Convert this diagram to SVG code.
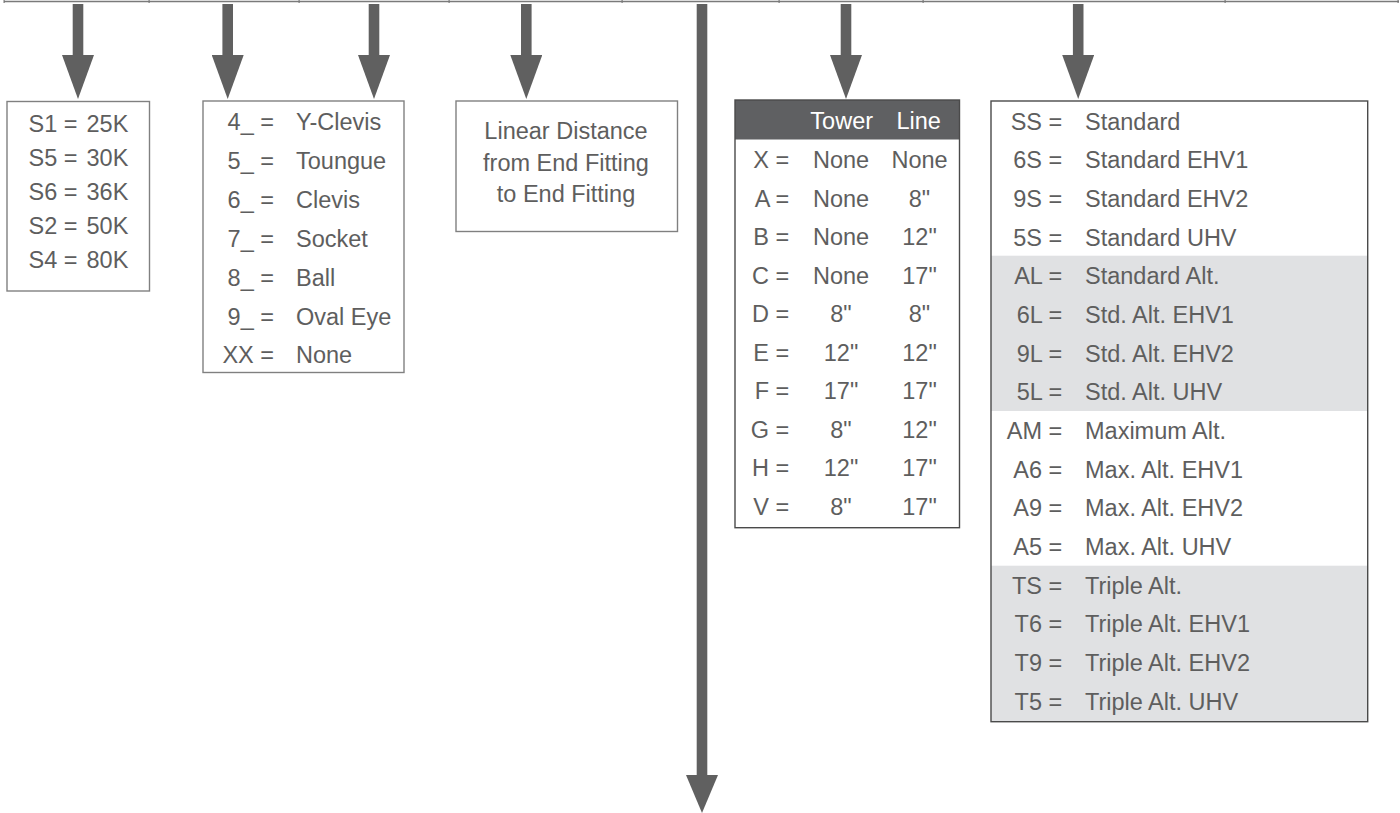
<svg xmlns="http://www.w3.org/2000/svg" width="1400" height="813" viewBox="0 0 1400 813">
<style>
text{font-family:"Liberation Sans",Arial,sans-serif;font-size:23.5px;fill:#5e5e5e}
.box{fill:#fff;stroke:#808080;stroke-width:1.4}
.tbl{fill:none;stroke:#4a4a4a;stroke-width:1.4}
.shade{fill:#e0e1e3}
.hdr{fill:#5f6062}
.hdr-t{fill:#fff;text-anchor:middle}
.e{text-anchor:end}
.m{text-anchor:middle}
.shaft{stroke:#606060;stroke-width:10.6;fill:none}
.top{stroke:#7a7a7a;stroke-width:1.5}
.tick{fill:#7a7a7a}
</style>
<defs>
<marker id="head" markerUnits="userSpaceOnUse" viewBox="0 -16 44 32" refX="0" refY="0" markerWidth="44" markerHeight="32" orient="auto"><path d="M0,-16 L44,0 L0,16 Z" fill="#606060"/></marker>
<marker id="headL" markerUnits="userSpaceOnUse" viewBox="0 -16 38 32" refX="0" refY="0" markerWidth="38" markerHeight="32" orient="auto"><path d="M0,-16 L38,0 L0,16 Z" fill="#606060"/></marker>
</defs>

<g id="top-rule">
<line class="top" x1="4" y1="1.5" x2="1399" y2="1.5"/>
<rect class="tick" x="3.5" y="0" width="1.2" height="3"/>
<rect class="tick" x="148.5" y="0" width="1.2" height="3"/>
<rect class="tick" x="298.5" y="0" width="1.2" height="3"/>
<rect class="tick" x="448.5" y="0" width="1.2" height="3"/>
<rect class="tick" x="621.5" y="0" width="1.2" height="3"/>
<rect class="tick" x="778.5" y="0" width="1.2" height="3"/>
<rect class="tick" x="922.5" y="0" width="1.2" height="3"/>
<rect class="tick" x="1224.5" y="0" width="1.2" height="3"/>
<rect class="tick" x="1397.5" y="0" width="1.2" height="3"/>
</g>

<g id="connectors">
<line class="shaft" x1="78" y1="4" x2="78" y2="55" marker-end="url(#head)"/>
<line class="shaft" x1="227.7" y1="4" x2="227.7" y2="55" marker-end="url(#head)"/>
<line class="shaft" x1="374" y1="4" x2="374" y2="55" marker-end="url(#head)"/>
<line class="shaft" x1="526.3" y1="4" x2="526.3" y2="55" marker-end="url(#head)"/>
<line class="shaft" x1="702" y1="4" x2="702" y2="775" marker-end="url(#headL)"/>
<line class="shaft" x1="846" y1="4" x2="846" y2="55" marker-end="url(#head)"/>
<line class="shaft" x1="1078.2" y1="4" x2="1078.2" y2="55" marker-end="url(#head)"/>
</g>

<g id="strength">
<rect class="box" x="7" y="101.5" width="142.5" height="189.5"/>
<text class="e" x="77.5" y="132">S1 =</text><text x="86.5" y="132">25K</text>
<text class="e" x="77.5" y="166">S5 =</text><text x="86.5" y="166">30K</text>
<text class="e" x="77.5" y="200">S6 =</text><text x="86.5" y="200">36K</text>
<text class="e" x="77.5" y="234">S2 =</text><text x="86.5" y="234">50K</text>
<text class="e" x="77.5" y="268">S4 =</text><text x="86.5" y="268">80K</text>
</g>

<g id="end-fittings">
<rect class="box" x="203" y="101" width="201" height="271.5"/>
<text class="e" x="274" y="130">4_ =</text><text x="296" y="130">Y-Clevis</text>
<text class="e" x="274" y="168.9">5_ =</text><text x="296" y="168.9">Toungue</text>
<text class="e" x="274" y="207.8">6_ =</text><text x="296" y="207.8">Clevis</text>
<text class="e" x="274" y="246.7">7_ =</text><text x="296" y="246.7">Socket</text>
<text class="e" x="274" y="285.6">8_ =</text><text x="296" y="285.6">Ball</text>
<text class="e" x="274" y="324.5">9_ =</text><text x="296" y="324.5">Oval Eye</text>
<text class="e" x="274" y="363.4">XX =</text><text x="296" y="363.4">None</text>
</g>

<g id="length">
<rect class="box" x="456" y="101" width="221.5" height="130.5"/>
<text class="m" x="566" y="139">Linear Distance</text>
<text class="m" x="566" y="170.5">from End Fitting</text>
<text class="m" x="566" y="202">to End Fitting</text>
</g>

<g id="grading-rings">
<rect class="hdr" x="735" y="100" width="224.5" height="39.5"/>
<text class="hdr-t" x="841.7" y="128.7">Tower</text>
<text class="hdr-t" x="918.7" y="128.7">Line</text>
<rect class="tbl" x="735" y="100" width="224.5" height="427.7"/>
<text class="e" x="789.3" y="168">X =</text><text class="m" x="841" y="168">None</text><text class="m" x="919.5" y="168">None</text>
<text class="e" x="789.3" y="206.5">A =</text><text class="m" x="841" y="206.5">None</text><text class="m" x="919.5" y="206.5">8"</text>
<text class="e" x="789.3" y="245">B =</text><text class="m" x="841" y="245">None</text><text class="m" x="919.5" y="245">12"</text>
<text class="e" x="789.3" y="283.5">C =</text><text class="m" x="841" y="283.5">None</text><text class="m" x="919.5" y="283.5">17"</text>
<text class="e" x="789.3" y="322">D =</text><text class="m" x="841" y="322">8"</text><text class="m" x="919.5" y="322">8"</text>
<text class="e" x="789.3" y="360.5">E =</text><text class="m" x="841" y="360.5">12"</text><text class="m" x="919.5" y="360.5">12"</text>
<text class="e" x="789.3" y="399">F =</text><text class="m" x="841" y="399">17"</text><text class="m" x="919.5" y="399">17"</text>
<text class="e" x="789.3" y="437.5">G =</text><text class="m" x="841" y="437.5">8"</text><text class="m" x="919.5" y="437.5">12"</text>
<text class="e" x="789.3" y="476">H =</text><text class="m" x="841" y="476">12"</text><text class="m" x="919.5" y="476">17"</text>
<text class="e" x="789.3" y="514.5">V =</text><text class="m" x="841" y="514.5">8"</text><text class="m" x="919.5" y="514.5">17"</text>
</g>

<g id="hardware-options">
<rect x="991" y="101" width="376.7" height="620.7" fill="#fff"/>
<rect class="shade" x="991" y="255.7" width="376.7" height="155.3"/>
<rect class="shade" x="991" y="565.7" width="376.7" height="156"/>
<rect class="tbl" x="991" y="101" width="376.7" height="620.7"/>
<text class="e" x="1062.3" y="129.7">SS =</text><text x="1085" y="129.7">Standard</text>
<text class="e" x="1062.3" y="168.4">6S =</text><text x="1085" y="168.4">Standard EHV1</text>
<text class="e" x="1062.3" y="207">9S =</text><text x="1085" y="207">Standard EHV2</text>
<text class="e" x="1062.3" y="245.7">5S =</text><text x="1085" y="245.7">Standard UHV</text>
<text class="e" x="1062.3" y="284.4">AL =</text><text x="1085" y="284.4">Standard Alt.</text>
<text class="e" x="1062.3" y="323">6L =</text><text x="1085" y="323">Std. Alt. EHV1</text>
<text class="e" x="1062.3" y="361.7">9L =</text><text x="1085" y="361.7">Std. Alt. EHV2</text>
<text class="e" x="1062.3" y="400.4">5L =</text><text x="1085" y="400.4">Std. Alt. UHV</text>
<text class="e" x="1062.3" y="439">AM =</text><text x="1085" y="439">Maximum Alt.</text>
<text class="e" x="1062.3" y="477.7">A6 =</text><text x="1085" y="477.7">Max. Alt. EHV1</text>
<text class="e" x="1062.3" y="516.4">A9 =</text><text x="1085" y="516.4">Max. Alt. EHV2</text>
<text class="e" x="1062.3" y="555">A5 =</text><text x="1085" y="555">Max. Alt. UHV</text>
<text class="e" x="1062.3" y="593.7">TS =</text><text x="1085" y="593.7">Triple Alt.</text>
<text class="e" x="1062.3" y="632.4">T6 =</text><text x="1085" y="632.4">Triple Alt. EHV1</text>
<text class="e" x="1062.3" y="671">T9 =</text><text x="1085" y="671">Triple Alt. EHV2</text>
<text class="e" x="1062.3" y="709.7">T5 =</text><text x="1085" y="709.7">Triple Alt. UHV</text>
</g>
</svg>
